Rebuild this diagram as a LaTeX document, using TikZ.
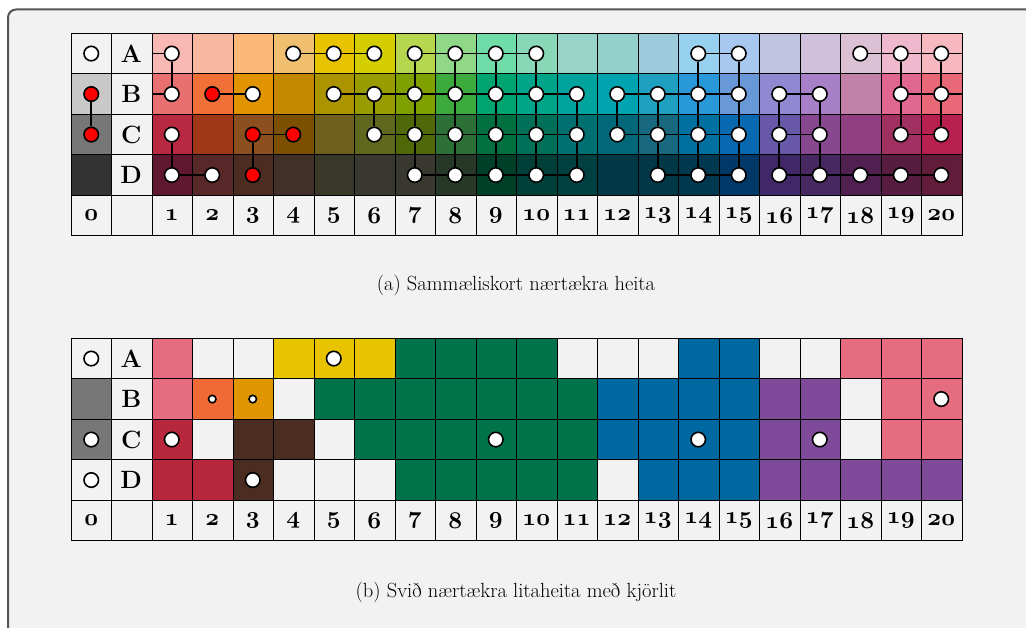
\RequirePackage{fix-cm}
\documentclass[tikz,border=0pt]{standalone}
\newcommand\osn[1]{{\usefont{OML}{cmm}{b}{it}#1}}
\begin{document}
\definecolor{frameline}{HTML}{555555}
\definecolor{cW}{HTML}{F2F2F2}
\definecolor{cGy}{HTML}{777777}
\definecolor{cP}{HTML}{E66C80}
\definecolor{cR}{HTML}{B8283C}
\definecolor{cO}{HTML}{F06A35}
\definecolor{cAm}{HTML}{DF9600}
\definecolor{cBr}{HTML}{4A2C20}
\definecolor{cY}{HTML}{E8C400}
\definecolor{cG}{HTML}{00734A}
\definecolor{cBl}{HTML}{0068A0}
\definecolor{cPu}{HTML}{7F4A9A}
\newcommand\paintrow[2]{\foreach \c [count=\i from 0] in {#2} {\definecolor{cc}{HTML}{\c}\fill[cc] ({71+40.5*\i},#1) rectangle ++(40.5,40.5);}}
\newcommand\paintnamed[2]{\foreach \c [count=\i from 0] in {#2} {\fill[\c] ({71+40.5*\i},#1) rectangle ++(40.5,40.5);}}
\newcommand\gridlines[1]{%
  \foreach \j in {0,...,22} {\draw[gridl] ({71+40.5*\j},#1) -- ++(0,202.5);}
  \foreach \r in {0,...,5} {\draw[gridl] (71,{#1+40.5*\r}) -- (962,{#1+40.5*\r});}}
\def\rowA{0}\def\rowB{1}\def\rowC{2}\def\rowD{3}
\begin{tikzpicture}[x=1pt,y=-1pt,
  wc/.style={circle,draw=black,fill=white,line width=1.6pt,minimum size=14.5pt,inner sep=0pt},
  rc/.style={wc,fill=red},
  sc/.style={wc,minimum size=7.5pt},
  link/.style={line width=1.8pt,black},
  gridl/.style={line width=0.9pt,black},
  lab/.style={font=\fontsize{25}{25}\selectfont\bfseries},
  num/.style={font=\fontsize{24}{24}\selectfont\bfseries},
  captext/.style={font=\fontsize{20.5}{24}\selectfont}]
\useasboundingbox (0,0) rectangle (1026,628);
\fill[white] (0,0) rectangle (1026,628);
\draw[frameline,line width=2pt,fill=cW,rounded corners=8pt] (8,9.5) rectangle (1060,660);
% ---------- top grid ----------
\paintrow{33.3}{F2F2F2,F2F2F2,F8B8B4,F8B8A0,FDB878,F0C070,E8C400,D4CE00,B6D650,90D888,70DCA8,88D8B8,98D4C8,94D0CC,9CCCDC,98D0F0,A8C8F0,C0C4E0,D0C0DC,DCC0D4,F0B8CC,F8B8C0}
\paintrow{73.8}{C8C8C8,F2F2F2,E87070,F07038,E09400,C48800,AC9400,989C00,80A000,3CAA3C,00A470,00A488,00A49C,00A4B0,20A0C0,2898D8,6898D8,9088D0,A880C8,C080A8,E06890,E86878}
\paintrow{114.3}{777777,F2F2F2,B82840,A03818,8C5020,7C5000,706020,606820,506808,2C7038,007040,007058,007070,006878,186880,0070A0,0868B0,6858A8,884890,904080,A03060,B82050}
\paintrow{154.8}{333333,F2F2F2,601830,582828,4C2C20,403028,383828,383830,383830,283828,004028,004038,004040,003848,003848,003850,003868,402868,482860,502050,581C40,601C38}
\gridlines{33.3}
\foreach \r in {A,B,C,D} {\node[lab] (tl\r) at (131.25,{53.55+40.5*\csname row\r\endcsname}) {\r};}
\node[num] (tn0) at (91.25,215.55) {\osn{0}};
\foreach \h in {1,...,20} {\node[num] (tn\h) at ({131.25+40.5*\h},215.55) {\osn{\h}};}
\foreach \h/\r/\s in {0/A/wc,0/B/rc,0/C/rc,
  1/A/wc,1/B/wc,1/C/wc,1/D/wc, 2/B/rc,2/D/wc, 3/B/wc,3/C/rc,3/D/rc, 4/A/wc,4/C/rc,
  5/A/wc,5/B/wc, 6/A/wc,6/B/wc,6/C/wc,
  7/A/wc,7/B/wc,7/C/wc,7/D/wc, 8/A/wc,8/B/wc,8/C/wc,8/D/wc,
  9/A/wc,9/B/wc,9/C/wc,9/D/wc, 10/A/wc,10/B/wc,10/C/wc,10/D/wc,
  11/B/wc,11/C/wc,11/D/wc, 12/B/wc,12/C/wc, 13/B/wc,13/C/wc,13/D/wc,
  14/A/wc,14/B/wc,14/C/wc,14/D/wc, 15/A/wc,15/B/wc,15/C/wc,15/D/wc,
  16/B/wc,16/C/wc,16/D/wc, 17/B/wc,17/C/wc,17/D/wc, 18/A/wc,18/D/wc,
  19/A/wc,19/B/wc,19/C/wc,19/D/wc, 20/A/wc,20/B/wc,20/C/wc,20/D/wc}
  {\node[\s] (t\h\r) at ({\h==0 ? 91.25 : 131.25+40.5*\h},{53.55+40.5*\csname row\r\endcsname}) {};}
\coordinate (wlA) at (152,53.55);
\coordinate (wlB) at (152,94.05);
\coordinate (wrA) at (962,53.55);
\coordinate (wrB) at (962,94.05);
\foreach \r/\a/\b in {A/4/5,A/5/6,A/7/8,A/8/9,A/9/10,A/14/15,A/18/19,A/19/20,
  B/2/3,B/5/6,B/6/7,B/7/8,B/8/9,B/9/10,B/10/11,B/12/13,B/13/14,B/14/15,B/16/17,B/19/20,
  C/3/4,C/6/7,C/7/8,C/8/9,C/9/10,C/10/11,C/12/13,C/13/14,C/14/15,C/16/17,C/19/20,
  D/1/2,D/7/8,D/8/9,D/9/10,D/10/11,D/13/14,D/14/15,D/16/17,D/17/18,D/18/19,D/19/20}
  {\draw[link] (t\a\r) -- (t\b\r);}
\foreach \h/\a/\b in {0/B/C,1/A/B,1/C/D,3/C/D,6/B/C,
  7/A/B,7/B/C,7/C/D,8/A/B,8/B/C,8/C/D,9/A/B,9/B/C,9/C/D,10/A/B,10/B/C,10/C/D,
  11/B/C,11/C/D,12/B/C,13/B/C,13/C/D,14/A/B,14/B/C,14/C/D,15/A/B,15/B/C,15/C/D,
  16/B/C,16/C/D,17/B/C,17/C/D,19/A/B,19/B/C,20/A/B,20/B/C}
  {\draw[link] (t\h\a) -- (t\h\b);}
\draw[link] (t1A) -- (wlA);
\draw[link] (t1B) -- (wlB);
\draw[link] (t20A) -- (wrA);
\draw[link] (t20B) -- (wrB);
\node[captext] (capa) at (516,285) {(a) Sammæliskort nærtækra heita};
% ---------- bottom grid ----------
\paintnamed{338.3}{cW,cW,cP,cW,cW,cY,cY,cY,cG,cG,cG,cG,cW,cW,cW,cBl,cBl,cW,cW,cP,cP,cP}
\paintnamed{378.8}{cGy,cW,cP,cO,cAm,cW,cG,cG,cG,cG,cG,cG,cG,cBl,cBl,cBl,cBl,cPu,cPu,cW,cP,cP}
\paintnamed{419.3}{cGy,cW,cR,cW,cBr,cBr,cW,cG,cG,cG,cG,cG,cG,cBl,cBl,cBl,cBl,cPu,cPu,cW,cP,cP}
\paintnamed{459.8}{cW,cW,cR,cR,cBr,cW,cW,cW,cG,cG,cG,cG,cG,cW,cBl,cBl,cBl,cPu,cPu,cPu,cPu,cPu}
\gridlines{338.3}
\foreach \r in {A,B,C,D} {\node[lab] (bl\r) at (131.25,{358.55+40.5*\csname row\r\endcsname}) {\r};}
\node[num] (bn0) at (91.25,520.55) {\osn{0}};
\foreach \h in {1,...,20} {\node[num] (bn\h) at ({131.25+40.5*\h},520.55) {\osn{\h}};}
\foreach \h/\r/\s in {0/A/wc,0/C/wc,0/D/wc,1/C/wc,2/B/sc,3/B/sc,3/D/wc,5/A/wc,
  9/C/wc,14/C/wc,17/C/wc,20/B/wc}
  {\node[\s] (b\h\r) at ({\h==0 ? 91.25 : 131.25+40.5*\h},{358.55+40.5*\csname row\r\endcsname}) {};}
\node[captext] (capb) at (516,592) {(b) Svið nærtækra litaheita með kjörlit};
\end{tikzpicture}
\end{document}
